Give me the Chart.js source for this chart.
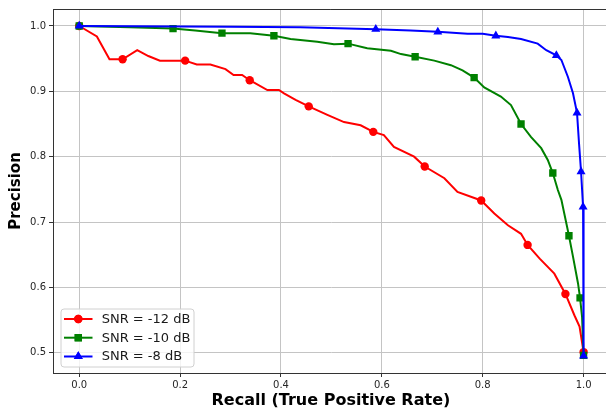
<!DOCTYPE html>
<html>
<head>
<meta charset="utf-8">
<script src="https://cdn.jsdelivr.net/npm/chart.js@4/dist/chart.umd.min.js"></script>
<style>
  html, body { margin: 0; padding: 0; background: #ffffff; overflow: hidden; }
  #wrap { width: 606px; height: 410px; overflow: hidden; position: relative; }
</style>
</head>
<body>
<div id="wrap"><canvas id="c" width="614" height="410"></canvas></div>
<script>
// ---- data ----
const seriesLabels = ['SNR = -12 dB', 'SNR = -10 dB', 'SNR = -8 dB'];

const redRecall = [0, 0.035, 0.06, 0.086, 0.115, 0.137, 0.160, 0.21, 0.233, 0.26, 0.29, 0.306, 0.323, 0.338, 0.373, 0.396, 0.406, 0.429, 0.455, 0.492, 0.525, 0.558, 0.583, 0.604, 0.624, 0.664, 0.685, 0.724, 0.750, 0.797, 0.823, 0.850, 0.876, 0.889, 0.913, 0.942, 0.964, 0.982, 0.992, 1.0];
const redPrecision = [1.0, 0.984, 0.949, 0.949, 0.963, 0.954, 0.947, 0.947, 0.941, 0.941, 0.934, 0.925, 0.925, 0.917, 0.902, 0.902, 0.897, 0.887, 0.877, 0.864, 0.853, 0.848, 0.838, 0.833, 0.815, 0.800, 0.785, 0.767, 0.746, 0.733, 0.713, 0.695, 0.682, 0.665, 0.644, 0.621, 0.590, 0.557, 0.540, 0.501];
const redMarkers = [0, 3, 7, 13, 18, 22, 26, 29, 33, 36, 39];

const greenRecall = [0, 0.10, 0.186, 0.23, 0.283, 0.339, 0.386, 0.419, 0.472, 0.505, 0.533, 0.571, 0.618, 0.638, 0.666, 0.704, 0.737, 0.760, 0.783, 0.803, 0.836, 0.856, 0.876, 0.896, 0.916, 0.929, 0.939, 0.949, 0.956, 0.971, 0.979, 0.989, 0.993, 0.997, 1.0];
const greenPrecision = [1.0, 0.998, 0.996, 0.993, 0.989, 0.989, 0.985, 0.980, 0.976, 0.972, 0.973, 0.966, 0.962, 0.957, 0.953, 0.947, 0.940, 0.932, 0.921, 0.906, 0.892, 0.879, 0.850, 0.830, 0.813, 0.795, 0.775, 0.749, 0.734, 0.679, 0.647, 0.606, 0.584, 0.555, 0.496];
const greenMarkers = [0, 2, 4, 6, 10, 14, 18, 22, 26, 29, 32, 34];

const blueRecall = [0, 0.30, 0.438, 0.588, 0.657, 0.711, 0.770, 0.800, 0.826, 0.850, 0.876, 0.909, 0.926, 0.946, 0.956, 0.969, 0.979, 0.987, 0.991, 0.995, 0.999, 1.0];
const bluePrecision = [1.0, 0.999, 0.998, 0.995, 0.993, 0.991, 0.988, 0.988, 0.985, 0.983, 0.980, 0.973, 0.963, 0.955, 0.948, 0.922, 0.897, 0.867, 0.820, 0.777, 0.723, 0.495];
const blueMarkers = [0, 3, 5, 8, 13, 17, 19, 20, 21];

const xTickValues = [0.0, 0.2, 0.4, 0.6, 0.8, 1.0];
const yTickValues = [0.5, 0.6, 0.7, 0.8, 0.9, 1.0];

// ---- build chart ----
const colors = ['#ff0000', '#008000', '#0000ff'];
const styles = ['circle', 'rect', 'triangle'];
const radii = [4.2, 5.2, 5.2];

function toPts(xs, ys) { return xs.map((x, i) => ({ x: x, y: ys[i] })); }

const series = [
  { label: seriesLabels[0], pts: toPts(redRecall, redPrecision), marks: redMarkers },
  { label: seriesLabels[1], pts: toPts(greenRecall, greenPrecision), marks: greenMarkers },
  { label: seriesLabels[2], pts: toPts(blueRecall, bluePrecision), marks: blueMarkers }
];

const datasets = series.map((s, k) => ({
  label: s.label,
  data: s.pts,
  showLine: true,
  borderColor: colors[k],
  backgroundColor: colors[k],
  borderWidth: 2,
  tension: 0,
  pointStyle: styles[k],
  pointBorderWidth: 0,
  pointRadius: (ctx) => s.marks.includes(ctx.dataIndex) ? radii[k] : 0,
  pointHoverRadius: 0,
  order: 2 - k
}));

const fontFamily = '"DejaVu Sans", sans-serif';

const legendPlugin = {
  id: 'mplLegend',
  afterDatasetsDraw(chart) {
    const ctx = chart.ctx;
    ctx.save();
    const bx = 61, by = 309, bw = 133, bh = 58, r = 3;
    ctx.beginPath();
    ctx.moveTo(bx + r, by);
    ctx.lineTo(bx + bw - r, by); ctx.arcTo(bx + bw, by, bx + bw, by + r, r);
    ctx.lineTo(bx + bw, by + bh - r); ctx.arcTo(bx + bw, by + bh, bx + bw - r, by + bh, r);
    ctx.lineTo(bx + r, by + bh); ctx.arcTo(bx, by + bh, bx, by + bh - r, r);
    ctx.lineTo(bx, by + r); ctx.arcTo(bx, by, bx + r, by, r);
    ctx.closePath();
    ctx.fillStyle = 'rgba(255,255,255,0.8)';
    ctx.fill();
    ctx.strokeStyle = '#d0d0d0';
    ctx.lineWidth = 1;
    ctx.stroke();
    const rows = [319, 337.7, 356.5];
    seriesLabels.forEach((lab, k) => {
      const y = rows[k];
      ctx.beginPath();
      ctx.moveTo(64, y); ctx.lineTo(92.5, y);
      ctx.strokeStyle = colors[k];
      ctx.lineWidth = 2;
      ctx.stroke();
      ctx.fillStyle = colors[k];
      Chart.helpers.drawPoint(ctx, { pointStyle: styles[k], radius: radii[k], borderWidth: 0 }, 78.3, y);
      ctx.fill();
      ctx.fillStyle = '#1a1a1a';
      ctx.font = '13px ' + fontFamily;
      ctx.textBaseline = 'middle';
      ctx.textAlign = 'left';
      ctx.fillText(lab, 101.7, y + 0.5);
    });
    ctx.restore();
  }
};

const topSpine = {
  id: 'topSpine',
  afterDraw(chart) {
    const a = chart.chartArea, ctx = chart.ctx;
    ctx.save();
    ctx.strokeStyle = '#333333';
    ctx.lineWidth = 1;
    ctx.beginPath();
    ctx.moveTo(a.left, a.top + 0.5);
    ctx.lineTo(a.right, a.top + 0.5);
    ctx.stroke();
    ctx.restore();
  }
};

new Chart(document.getElementById('c'), {
  type: 'scatter',
  data: { datasets: datasets },
  options: {
    responsive: false,
    animation: false,
    events: [],
    layout: { padding: { top: 9, right: 0, left: 0, bottom: 0 } },
    plugins: { legend: { display: false }, tooltip: { enabled: false } },
    scales: {
      x: {
        type: 'linear',
        min: -0.052,
        max: 1.05,
        afterBuildTicks: (sc) => { sc.ticks = xTickValues.map(v => ({ value: v })); },
        afterFit: (sc) => { sc.height = 37; sc.paddingRight = 0; sc.paddingLeft = 0; },
        ticks: {
          callback: (v) => Number(v).toFixed(1),
          font: { family: fontFamily, size: 10 },
          color: '#262626',
          padding: 2,
          maxRotation: 0,
          autoSkip: false
        },
        grid: { color: '#c4c4c4', lineWidth: 1, tickLength: 4, tickColor: '#333333' },
        border: { color: '#333333', width: 1 },
        title: {
          display: true,
          text: 'Recall (True Positive Rate)',
          font: { family: fontFamily, size: 16, weight: 'bold' },
          color: '#000000',
          padding: { top: 0, bottom: 0 }
        }
      },
      y: {
        type: 'linear',
        min: 0.469,
        max: 1.026,
        afterBuildTicks: (sc) => { sc.ticks = yTickValues.map(v => ({ value: v })); },
        afterFit: (sc) => { sc.width = 53; sc.paddingTop = 0; sc.paddingBottom = 0; },
        ticks: {
          callback: (v) => Number(v).toFixed(1),
          font: { family: fontFamily, size: 10 },
          color: '#262626',
          padding: 3,
          autoSkip: false
        },
        grid: { color: '#c4c4c4', lineWidth: 1, tickLength: 4, tickColor: '#333333' },
        border: { color: '#333333', width: 1 },
        title: {
          display: true,
          text: 'Precision',
          font: { family: fontFamily, size: 15, weight: 'bold' },
          color: '#000000',
          padding: { top: 7, bottom: 0 }
        }
      }
    }
  },
  plugins: [legendPlugin, topSpine]
});
</script>
</body>
</html>
